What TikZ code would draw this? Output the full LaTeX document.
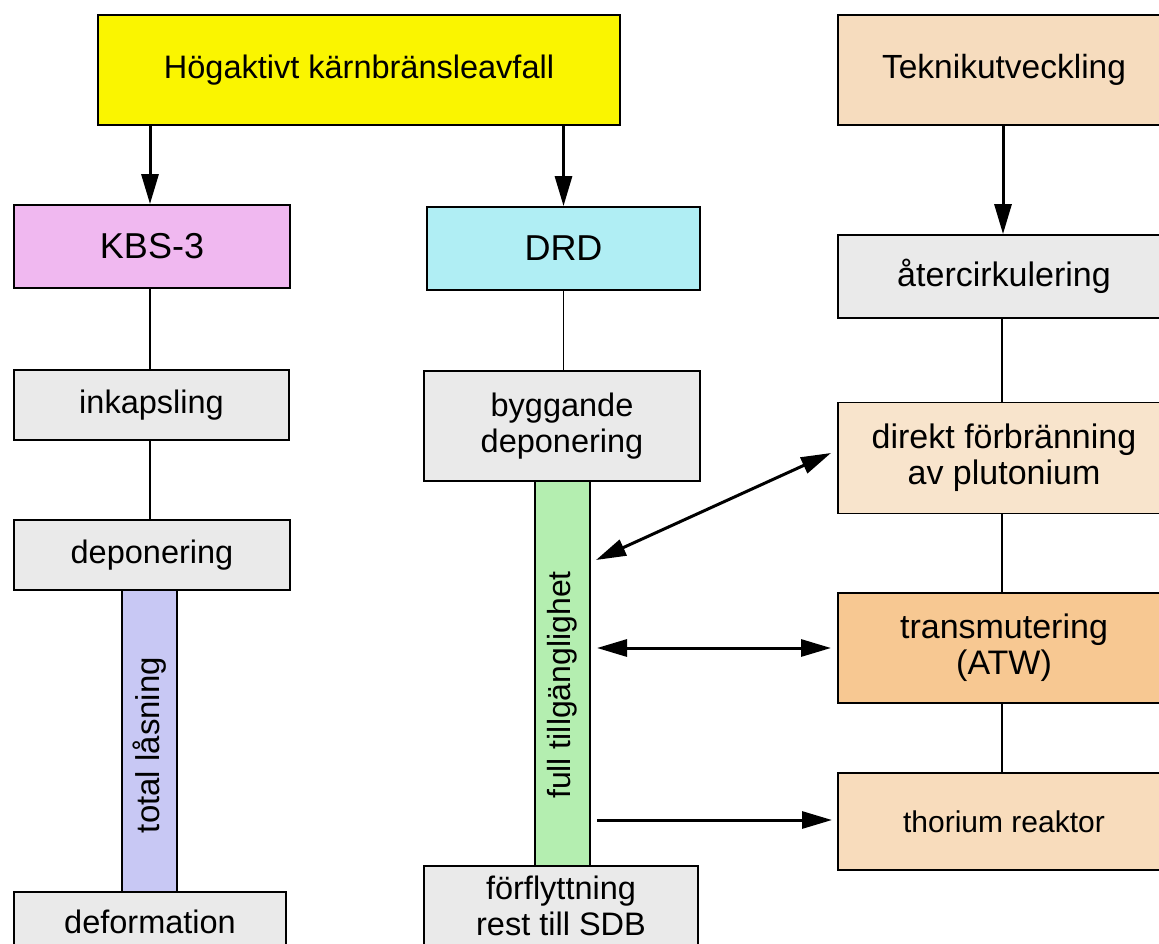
\documentclass[tikz,border=0pt]{standalone}
\usepackage{fontspec}
\setmainfont{Liberation Sans}
\usetikzlibrary{arrows.meta,calc}
\definecolor{cyel}{RGB}{250,245,0}
\definecolor{cpink}{RGB}{240,184,240}
\definecolor{ccyan}{RGB}{176,238,244}
\definecolor{cgray}{RGB}{234,234,234}
\definecolor{clav}{RGB}{200,200,244}
\definecolor{cgreen}{RGB}{180,238,176}
\definecolor{ctan}{RGB}{246,220,190}
\definecolor{clight}{RGB}{248,228,204}
\definecolor{corange}{RGB}{247,200,146}
\definecolor{cthor}{RGB}{248,220,188}
\tikzset{
  box/.style={draw=black,line width=1.8pt,inner sep=0pt,align=center,text=black},
  bar/.style={draw=black,line width=1.5pt,inner sep=0pt},
  link/.style={draw=black,line width=1.4pt},
  arr/.style={draw=black,line width=3pt,-{Triangle[length=30pt,width=17pt]}},
  darr/.style={draw=black,line width=3pt,{Triangle[length=30pt,width=17pt]}-{Triangle[length=30pt,width=17pt]}},
  vtext/.style={rotate=90,inner sep=0pt,text=black},
}
\begin{document}
\begin{tikzpicture}[x=1pt,y=-1pt]
\useasboundingbox (0,0) rectangle (1159,944);
\clip (0,0) rectangle (1159,944);
\fill[white] (0,0) rectangle (1159,944);
% bars (behind boxes)
\node[bar,fill=clav,minimum width=55pt,minimum height=302pt] (lock) at (149.5,741) {};
\node[bar,fill=cgreen,minimum width=55pt,minimum height=386pt] (acc) at (562.5,674) {};
\node[vtext,font=\fontsize{33}{38}\selectfont] (locktxt) at (149.5,745) {total låsning};
\node[vtext,font=\fontsize{32}{38}\selectfont] (acctxt) at (562.5,685) {full tillgänglighet};
% top row
\node[box,fill=cyel,minimum width=522pt,minimum height=110pt,font=\fontsize{32.5}{38}\selectfont] (top) at (359,70) {Högaktivt kärnbränsleavfall};
\node[box,fill=ctan,minimum width=332pt,minimum height=110pt,font=\fontsize{33.5}{38}\selectfont] (tek) at (1004,70) {Teknikutveckling};
% left column
\node[box,fill=cpink,minimum width=276pt,minimum height=83pt,font=\fontsize{36}{42}\selectfont] (kbs) at (152,246.5) {KBS-3};
\node[box,fill=cgray,minimum width=275pt,minimum height=70pt,font=\fontsize{32.5}{38}\selectfont] (inkap) at (151.5,405) {inkapsling};
\node[box,fill=cgray,minimum width=276pt,minimum height=70pt,font=\fontsize{32.5}{38}\selectfont] (depo) at (152,555) {deponering};
\node[box,fill=cgray,minimum width=272pt,minimum height=100pt] (defo) at (150,942) {};
\node[text=black,font=\fontsize{32.5}{38}\selectfont,inner sep=0pt] (defotxt) at (150,922) {deformation};
% middle column
\node[box,fill=ccyan,minimum width=273pt,minimum height=83pt,font=\fontsize{36}{42}\selectfont] (drd) at (563.5,248.5) {DRD};
\node[box,fill=cgray,minimum width=276pt,minimum height=110pt,font=\fontsize{32.5}{36}\selectfont] (bygg) at (562,426) {byggande\\deponering};
\node[box,fill=cgray,minimum width=274pt,minimum height=120pt] (forf) at (561,926) {};
\node[text=black,align=center,font=\fontsize{32.5}{36}\selectfont,inner sep=0pt] (forftxt) at (561,906) {förflyttning\\rest till SDB};
% right column
\node[box,fill=cgray,minimum width=332pt,minimum height=83pt,font=\fontsize{34}{38}\selectfont] (ater) at (1004,276.5) {återcirkulering};
\node[box,fill=clight,minimum width=332pt,minimum height=111pt,font=\fontsize{34}{36}\selectfont] (dir) at (1004,458) {direkt förbränning\\av plutonium};
\node[box,fill=corange,minimum width=332pt,minimum height=110pt,font=\fontsize{34}{36}\selectfont] (trans) at (1004,648) {transmutering\\(ATW)};
\node[box,fill=cthor,minimum width=332pt,minimum height=97pt,font=\fontsize{30}{34}\selectfont] (thor) at (1004,821.5) {thorium reaktor};
% connectors
\draw[arr] (top.south -| 150,0) -- (kbs.north -| 150,0);
\draw[arr] (top.south -| drd.north) -- (drd.north);
\draw[arr] (tek.south -| 1003,0) -- (ater.north -| 1003,0);
\draw[link] (kbs.south -| 150,0) -- (inkap.north -| 150,0);
\draw[link] (inkap.south -| 150,0) -- (depo.north -| 150,0);
\draw[link] (drd.south) -- (bygg.north -| drd.south);
\draw[link] (ater.south -| 1002,0) -- (dir.north -| 1002,0);
\draw[link] (dir.south -| 1002,0) -- (trans.north -| 1002,0);
\draw[link] (trans.south -| 1002,0) -- (thor.north -| 1002,0);
% arrows between columns
\coordinate (a1) at (596,560);
\coordinate (b1) at (831,453);
\coordinate (a2) at (597,648);
\coordinate (b2) at (831,648);
\coordinate (a3) at (597,820);
\coordinate (b3) at (832,820);
\draw[darr] (a1) -- (b1);
\draw[darr] (a2) -- (b2);
\draw[arr] (a3) -- (b3);
\end{tikzpicture}
\end{document}
